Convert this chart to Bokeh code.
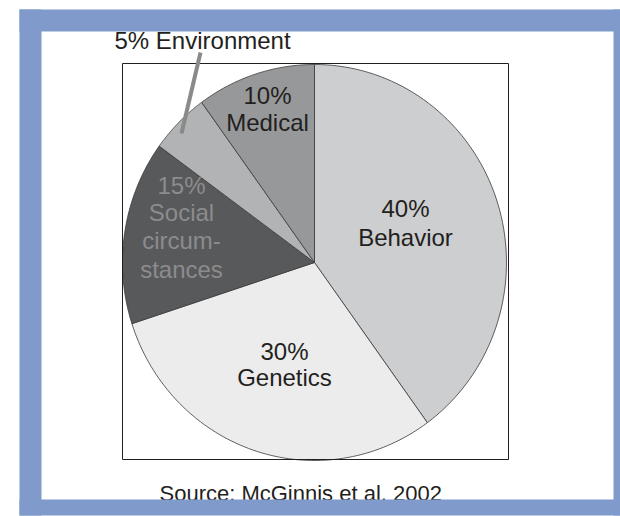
import numpy as np
from bokeh.plotting import figure
from bokeh.models import Range1d
from bokeh.embed import file_html
from bokeh.resources import INLINE
from bokeh.core.properties import value

# ---- data ----
categories = ["Behavior", "Genetics", "Social circumstances", "Environment", "Medical"]
percents = [40, 30, 15, 5, 10]
slice_colors = ["#cdced0", "#ececec", "#58595b", "#b2b3b5", "#97989a"]
label_lines = [["40%", "Behavior"], ["30%", "Genetics"],
               ["15%", "Social", "circum-", "stances"], ["5% Environment"],
               ["10%", "Medical"]]
label_colors = ["#231f20", "#231f20", "#8c8c8e", "#231f20", "#231f20"]
source_text = "Source: McGinnis et al. 2002"

# ---- layout (screen-pixel-like data space) ----
W, H = 620, 516
FONT = value("Liberation Sans")
cx, cy, rx, ry = 314, 262, 192, 198
DY = -8  # baseline correction for the renderer
label_x = [405, 284, 181, 114, 267]
label_y = [[216, 245], [359, 385], [193, 220, 248, 277], [48], [103, 130]]

p = figure(width=W, height=H, x_range=Range1d(0, W), y_range=Range1d(H, 0),
           output_backend="svg", toolbar_location=None,
           x_axis_location=None, y_axis_location=None,
           min_border=0, min_border_left=0, min_border_right=0,
           min_border_top=0, min_border_bottom=0)
p.grid.visible = False
p.outline_line_color = None
p.background_fill_color = "white"
p.border_fill_color = "white"

# pie slices (clockwise from 12 o'clock)
total = float(sum(percents))
cum = np.concatenate([[0], np.cumsum(percents)]) / total
xs, ys = [], []
for i in range(len(percents)):
    t = np.linspace(cum[i], cum[i + 1], 80) * 2 * np.pi
    xs.append([cx] + list(cx + rx * np.sin(t)))
    ys.append([cy] + list(cy - ry * np.cos(t)))
p.patches(xs, ys, fill_color=slice_colors, line_color="#3a3a3a", line_width=0.8)

# box around pie
p.quad(left=[122], right=[508], top=[63], bottom=[459], fill_color=None,
       line_color="#231f20", line_width=1)

# labels
for i, lines in enumerate(label_lines):
    n = len(lines)
    align = "left" if categories[i] == "Environment" else "center"
    p.text(x=[label_x[i]] * n, y=[v + DY for v in label_y[i]], text=lines,
           text_font=FONT, text_font_size="24px", text_align=align,
           text_baseline="alphabetic", text_color=label_colors[i])

# leader line for Environment
p.line(x=[200, 181], y=[52, 133], line_color="#8a8a8a", line_width=4)

# source
p.text(x=[159], y=[501 + DY], text=[source_text], text_font=FONT,
       text_font_size="22px", text_align="left", text_baseline="alphabetic",
       text_color="#231f20")

# blue frame
blue = "#7f9acb"
p.quad(left=[19, 19, 19, 613], right=[625, 625, 41, 625],
       top=[9, 499, 9, 9], bottom=[31, 515, 515, 515],
       fill_color=blue, line_color=None)

open("out.html", "w").write(file_html(p, INLINE))
